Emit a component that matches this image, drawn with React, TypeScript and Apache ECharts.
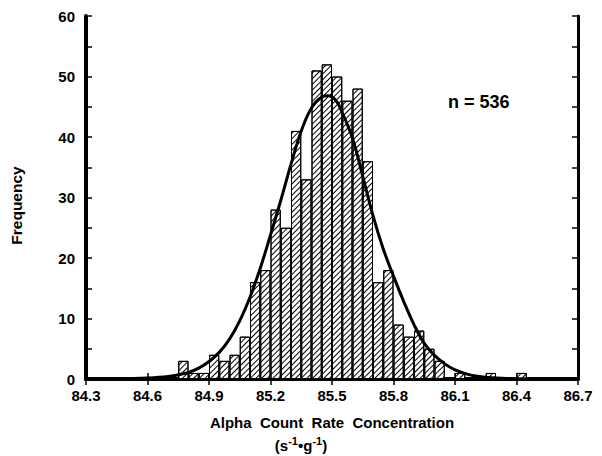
import React, { useEffect, useRef } from "react";
import * as echarts from "echarts";

// Histogram bins (start of each 0.05-wide bin)
const binStarts = [
  84.3, 84.35, 84.4, 84.45, 84.5, 84.55, 84.6, 84.65, 84.7, 84.75,
  84.8, 84.85, 84.9, 84.95, 85.0, 85.05, 85.1, 85.15, 85.2, 85.25,
  85.3, 85.35, 85.4, 85.45, 85.5, 85.55, 85.6, 85.65, 85.7, 85.75,
  85.8, 85.85, 85.9, 85.95, 86.0, 86.05, 86.1, 86.15, 86.2, 86.25,
  86.3, 86.35, 86.4, 86.45, 86.5, 86.55, 86.6, 86.65,
];
const frequency = [
  0, 0, 0, 0, 0, 0, 0, 0, 0, 3,
  1, 1, 4, 3, 4, 7, 16, 18, 28, 25,
  41, 33, 51, 52, 50, 46, 48, 36, 16, 18,
  9, 7, 8, 5, 3, 0, 1, 0, 0, 1,
  0, 0, 1, 0, 0, 0, 0, 0,
];

// Fitted normal curve
const curveX = [
  84.42, 84.5, 84.6, 84.7, 84.75, 84.8, 84.85, 84.9, 84.95, 85.0,
  85.05, 85.1, 85.15, 85.2, 85.25, 85.3, 85.35, 85.4, 85.45, 85.48,
  85.52, 85.55, 85.6, 85.65, 85.7, 85.75, 85.8, 85.85, 85.9, 85.95,
  86.0, 86.05, 86.1, 86.15, 86.2, 86.3, 86.4, 86.58,
];
const curveY = [
  0, 0.05, 0.15, 0.4, 0.7, 1.1, 1.8, 2.9, 4.4, 6.6,
  9.6, 13.5, 18.3, 23.8, 29.5, 35.5, 41.0, 44.8, 46.6, 46.8,
  46.0, 44.0, 39.8, 33.5, 27.0, 21.5, 17.0, 12.8, 9.0, 5.9,
  3.9, 2.5, 1.5, 0.9, 0.5, 0.15, 0.04, 0,
];

const xTickLabels = ["84.3", "84.6", "84.9", "85.2", "85.5", "85.8", "86.1", "86.4", "86.7"];
const sampleSize = 536;

const FONT = "'Liberation Sans', Arial, Helvetica, sans-serif";

export default function App() {
  const ref = useRef<HTMLDivElement>(null);
  useEffect(() => {
    if (!ref.current) return;
    const chart = echarts.init(ref.current, undefined, { renderer: "svg" });
    const labelStyle = { color: "#000", fontFamily: FONT, fontWeight: "bold" as const, fontSize: 15 };
    const tickStyle = { color: "#000", width: 1.5 };
    const option: any = {
      animation: false,
      backgroundColor: "#fff",
      grid: { left: 86, right: 24, top: 16, bottom: 77, containLabel: false },
      xAxis: [
        {
          type: "value",
          min: 84.3,
          max: 86.7,
          interval: 0.3,
          position: "bottom",
          axisLine: { show: true, lineStyle: { color: "#000", width: 4 } },
          axisTick: { show: true, inside: true, length: 6, lineStyle: tickStyle },
          splitLine: { show: false },
          axisLabel: {
            ...labelStyle,
            margin: 9,
            formatter: (v: number) => {
              const i = Math.round((v - 84.3) / 0.3);
              return xTickLabels[i] ?? v.toFixed(1);
            },
          },
          name: "Alpha  Count  Rate  Concentration",
          nameLocation: "middle",
          nameGap: 36,
          nameTextStyle: { ...labelStyle },
        },
        {
          type: "value",
          min: 84.3,
          max: 86.7,
          interval: 0.3,
          position: "top",
          axisLine: { show: true, lineStyle: { color: "#000", width: 3 } },
          axisTick: { show: true, inside: true, length: 6, lineStyle: tickStyle },
          splitLine: { show: false },
          axisLabel: { show: false },
        },
        {
          type: "category",
          data: binStarts.map((b) => b.toFixed(2)),
          show: false,
          boundaryGap: true,
        },
      ],
      yAxis: [
        {
          type: "value",
          min: 0,
          max: 60,
          interval: 10,
          position: "left",
          axisLine: { show: true, lineStyle: { color: "#000", width: 4 } },
          axisTick: { show: true, inside: true, length: 6, lineStyle: tickStyle },
          minorTick: { show: true, splitNumber: 2, length: 6, lineStyle: tickStyle },
          splitLine: { show: false },
          axisLabel: { ...labelStyle, margin: 11 },
          name: "Frequency",
          nameLocation: "middle",
          nameGap: 62,
          nameRotate: 90,
          nameTextStyle: { ...labelStyle, fontSize: 15.5, padding: [0, 16, 0, 0] },
        },
        {
          type: "value",
          min: 0,
          max: 60,
          interval: 10,
          position: "right",
          axisLine: { show: true, lineStyle: { color: "#000", width: 3 } },
          axisTick: { show: true, inside: true, length: 6, lineStyle: tickStyle },
          minorTick: { show: true, splitNumber: 2, length: 6, lineStyle: tickStyle },
          splitLine: { show: false },
          axisLabel: { show: false },
        },
      ],
      graphic: [
        {
          type: "text",
          left: "center",
          top: 435,
          style: {
            text: "{b|(s}{sup|-1}{b|•g}{sup|-1}{b|)}",
            rich: {
              b: { ...labelStyle, fontSize: 15 },
              sup: { ...labelStyle, fontSize: 11, padding: [0, 0, 9, 0] },
            },
          },
        },
        {
          type: "text",
          left: 448,
          top: 93,
          style: {
            text: `n = ${sampleSize}`,
            fill: "#000",
            font: `bold 18px ${FONT}`,
          },
        },
      ],
      series: [
        {
          type: "bar",
          xAxisIndex: 2,
          yAxisIndex: 0,
          data: frequency,
          barWidth: "100%",
          barCategoryGap: 0,
          itemStyle: {
            color: "#fff",
            borderColor: "#000",
            borderWidth: 1,
            decal: {
              symbol: "rect",
              symbolSize: 1,
              dashArrayX: [1, 0],
              dashArrayY: [1, 3],
              rotation: -Math.PI / 4,
              color: "#000",
              backgroundColor: "#fff",
            },
          },
          z: 2,
        },
        {
          type: "line",
          xAxisIndex: 0,
          yAxisIndex: 0,
          data: curveX.map((x, i) => [x, curveY[i]]),
          smooth: 0.4,
          showSymbol: false,
          lineStyle: { color: "#000", width: 3 },
          z: 5,
        },
      ],
    };
    chart.setOption(option);
    return () => chart.dispose();
  }, []);
  return <div ref={ref} style={{ width: 602, height: 456, position: "absolute", left: 0, top: 0 }} />;
}
